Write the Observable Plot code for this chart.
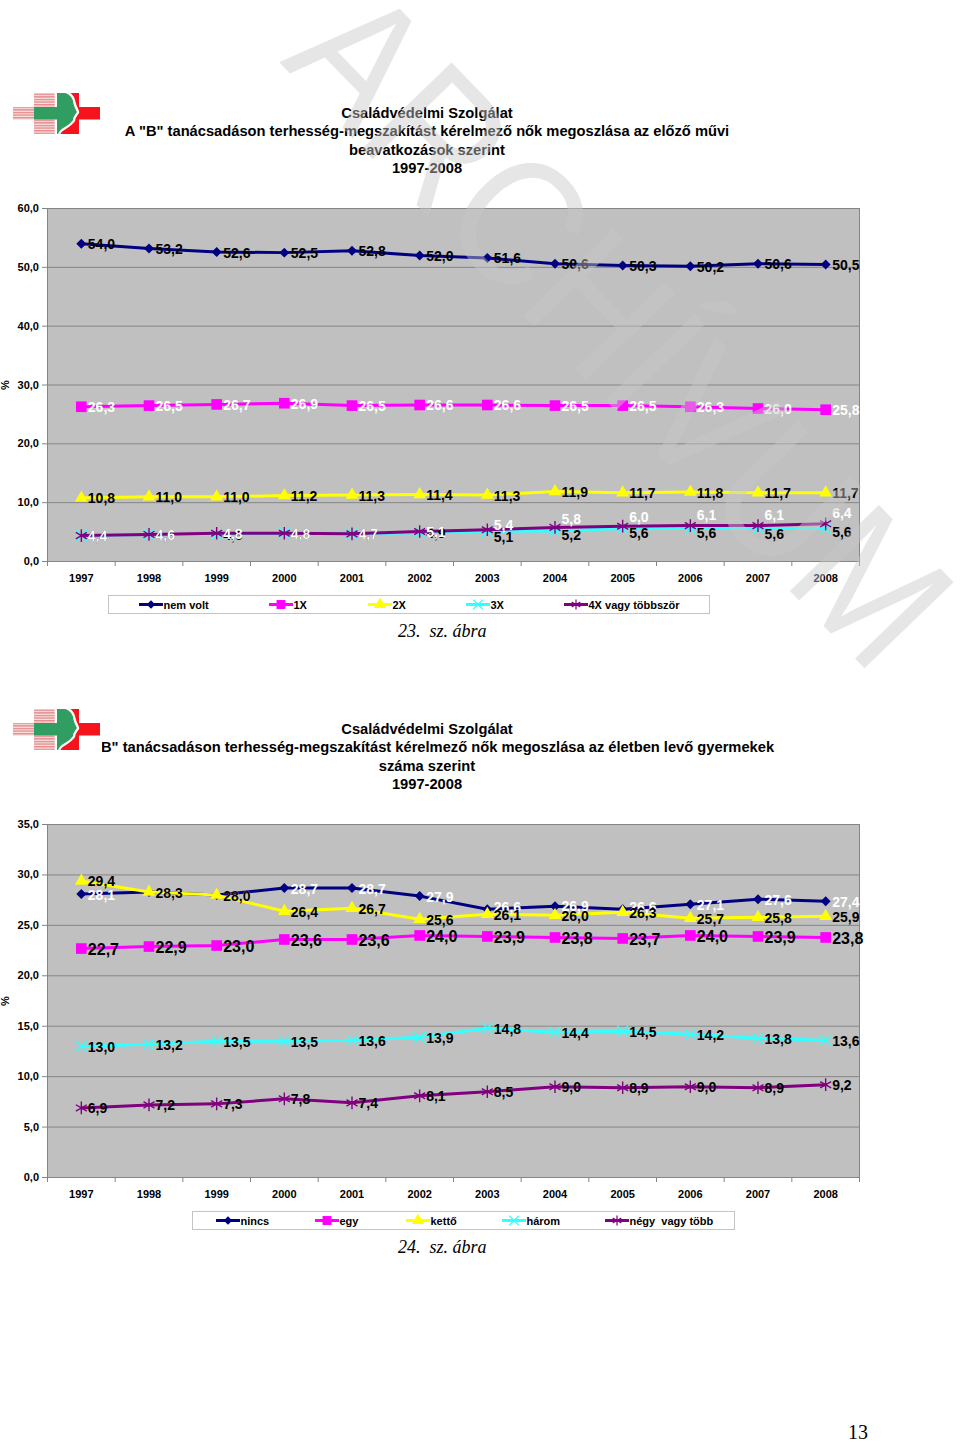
<!DOCTYPE html>
<html lang="hu">
<head>
<meta charset="utf-8">
<script src="https://cdn.jsdelivr.net/npm/d3@7"></script>
<script src="https://cdn.jsdelivr.net/npm/@observablehq/plot@0.6"></script>
<style>
html,body{margin:0;padding:0;background:#fff}
#page{position:relative;width:960px;height:1442px;overflow:hidden;background:#fff;font-family:"Liberation Sans",Arial,sans-serif;color:#000}
.abs{position:absolute}
.title{left:0;width:854px;text-align:center;font-size:14.7px;font-weight:bold;line-height:18.4px;white-space:nowrap}
.caption{font-family:"Liberation Serif","Times New Roman",serif;font-style:italic;font-size:18px;white-space:pre}
.legend{border:1px solid #c4c4c4;box-sizing:border-box;background:#fff;font-size:11px;font-weight:bold}
.legend span{position:absolute;top:2.5px;line-height:13px;white-space:pre}
.legend svg{position:absolute;top:0;overflow:visible}
</style>
</head>
<body>
<div id="page"></div>
<script>
const years = [1997,1998,1999,2000,2001,2002,2003,2004,2005,2006,2007,2008];

// 23. ábra
const nemVolt = [54.0,53.2,52.6,52.5,52.8,52.0,51.6,50.6,50.3,50.2,50.6,50.5];
const egyX = [26.3,26.5,26.7,26.9,26.5,26.6,26.6,26.5,26.5,26.3,26.0,25.8];
const ketX = [10.8,11.0,11.0,11.2,11.3,11.4,11.3,11.9,11.7,11.8,11.7,11.7];
const haromX = [4.4,4.6,4.6,4.8,4.7,4.9,5.1,5.2,5.6,5.6,5.6,5.6];
const negyX = [4.4,4.6,4.8,4.8,4.7,5.1,5.4,5.8,6.0,6.1,6.1,6.4];
const ticks1 = [0,10,20,30,40,50,60];

// 24. ábra
const nincs = [28.1,28.3,28.0,28.7,28.7,27.9,26.6,26.9,26.6,27.1,27.6,27.4];
const egy = [22.7,22.9,23.0,23.6,23.6,24.0,23.9,23.8,23.7,24.0,23.9,23.8];
const ketto = [29.4,28.3,28.0,26.4,26.7,25.6,26.1,26.0,26.3,25.7,25.8,25.9];
const harom = [13.0,13.2,13.5,13.5,13.6,13.9,14.8,14.4,14.5,14.2,13.8,13.6];
const negy = [6.9,7.2,7.3,7.8,7.4,8.1,8.5,9.0,8.9,9.0,8.9,9.2];
const ticks2 = [0,5,10,15,20,25,30,35];

const titles1 = ['Családvédelmi Szolgálat','A "B" tanácsadáson terhesség-megszakítást kérelmező nők megoszlása az előző művi','beavatkozások szerint','1997-2008'];
const titles2 = ['Családvédelmi Szolgálat','A "B" tanácsadáson terhesség-megszakítást kérelmező nők megoszlása az életben levő gyermekek','száma szerint','1997-2008'];

const NAVY="#000080", PINK="#ff00ff", YEL="#ffff00", CYAN="#33ffff", PURP="#800080";
const comma = v => d3.format(".1f")(v).replace(".",",");
const gap = y => y - 0.5;
const bounds = [...years.map(gap), 2008.5];

function chart(series, ticks, yMax, top){
  const marks = [
    Plot.frame({fill:"#c0c0c0",stroke:"#858585"}),
    Plot.ruleY(ticks,{stroke:"#858585",strokeWidth:1}),
    Plot.axisX(bounds,{tickSize:5,tickFormat:()=>"",stroke:"#858585",label:null}),
    Plot.axisX(years,{tickSize:0,tickPadding:13,tickFormat:"d",fontSize:11,fontWeight:"bold",label:null,fill:"#000"}),
    Plot.axisY(ticks,{tickSize:5,tickPadding:3.5,tickFormat:comma,fontSize:11,fontWeight:"bold",label:null,stroke:"#858585",fill:"#000"}),
    Plot.text(["%"],{frameAnchor:"left",textAnchor:"middle",dx:-42,rotate:-90,fontSize:11,fontWeight:"bold",fill:"#000"})
  ];
  for(const s of series){
    const rows = s.values.map((v,i)=>({year:years[i],v}));
    marks.push(Plot.line(rows,{x:"year",y:"v",stroke:s.color,strokeWidth:3}));
    marks.push(Plot.dot(rows, s.line
      ? {x:"year",y:"v",symbol:s.symbol,r:s.r,stroke:s.color,strokeWidth:1.4}
      : {x:"year",y:"v",symbol:s.symbol,r:s.r,fill:s.color}));
  }
  for(const s of series){
    const rows = s.values.map((v,i)=>({year:years[i],v,dy:s.dy?s.dy[i]:1}));
    for(const [dy,part] of d3.group(rows,d=>d.dy)){
      marks.push(Plot.text(part,{x:"year",y:"v",text:d=>comma(d.v),dx:6.5,dy,textAnchor:"start",
        fill:s.labelColor,fontSize:s.size,fontWeight:"bold"}));
    }
  }
  const p = Plot.plot({
    width:960,height:400,marginLeft:47,marginRight:101,marginTop:18,marginBottom:29,
    style:{fontFamily:"'Liberation Sans',Arial,sans-serif",background:"transparent",overflow:"visible"},
    x:{type:"linear",domain:[1996.5,2008.5]},
    y:{domain:[0,yMax]},
    marks
  });
  p.classList.add("abs");
  p.style.left="0";p.style.top=top+"px";
  return p;
}

function legend(entries,left,top,width){
  const box=d3.create("div").attr("class","abs legend")
    .style("left",left+"px").style("top",top+"px").style("width",width+"px").style("height","19px");
  for(const e of entries){
    const svg=box.append("svg").attr("width",24).attr("height",19).style("left",(e.x-left)+"px");
    svg.append("line").attr("x1",0).attr("x2",24).attr("y1",8.5).attr("y2",8.5).attr("stroke",e.color).attr("stroke-width",3);
    const path=d3.symbol(e.sym,e.size)();
    svg.append("path").attr("d",path).attr("transform","translate(12,8.5)")
      .attr("fill",e.line?"none":e.color).attr("stroke",e.line?e.color:"none").attr("stroke-width",1.2);
    box.append("span").style("left",(e.x-left+24.5)+"px").text(e.label);
  }
  return box.node();
}

function logo(dy){
  const ns=d3.create("svg").attr("class","abs").attr("width",960).attr("height",160).style("left","0").style("top",(80+dy)+"px").attr("viewBox","0 80 960 160");
  const id="st"+Math.round(dy);
  const defs=ns.append("defs");
  const pat=defs.append("pattern").attr("id",id).attr("patternUnits","userSpaceOnUse").attr("width",4).attr("height",2.6);
  pat.append("rect").attr("width",4).attr("height",2.6).attr("fill","#fbe6e6");
  pat.append("rect").attr("width",4).attr("height",1.4).attr("fill","#e28a8a");
  ns.append("rect").attr("x",8).attr("y",88).attr("width",94).attr("height",48).attr("fill","#fff");
  ns.append("path").attr("fill","#f5141e").attr("d","M57 93H79V107H100V119.5H79V134H57Z");
  ns.append("path").attr("fill",`url(#${id})`).attr("d","M13 107H34V93H57V134H34V119.5H13Z");
  const face="M57 93H65C69 94 72 97 73 101C73.5 104 74 106 77 112C75 115 73 117 73 120C71 123 68 125 65 127C61 129 59 131 58 134H57Z";
  ns.append("path").attr("fill","#fff").attr("stroke","#fff").attr("stroke-width",4.5).attr("stroke-linejoin","round").attr("d",face);
  ns.append("path").attr("fill","#2f9e60").attr("d",face);
  ns.append("rect").attr("x",34).attr("y",107).attr("width",24).attr("height",12.5).attr("fill","#2f9e60");
  return ns.node();
}

const page=document.getElementById("page");

function titleBlock(lines,top){
  const d=d3.create("div").attr("class","abs title").style("top",top+"px");
  lines.forEach(t=>d.append("div").text(t));
  return d.node();
}
function textAt(cls,text,x,y){
  return d3.create("div").attr("class","abs "+cls).style("left",x+"px").style("top",y+"px").text(text).node();
}

page.append(titleBlock(titles1,104));
page.append(logo(0));
page.append(chart([
  {values:nemVolt,color:NAVY,symbol:"diamond2",r:4.5,labelColor:"#000",size:14},
  {values:egyX,color:PINK,symbol:"square",r:6,labelColor:"#fff",size:14},
  {values:ketX,color:YEL,symbol:"triangle",r:4.8,labelColor:"#000",size:14},
  {values:haromX,color:CYAN,symbol:"times",r:5,line:true,labelColor:"#000",size:14,dy:[1,1,1,1,1,1,6,5,5,5,6,4]},
  {values:negyX,color:PURP,symbol:"asterisk",r:6,line:true,labelColor:"#fff",size:14,dy:[1,1,1,1,1,1,-4,-8,-9,-10,-10,-10]}
],ticks1,60,190));
page.append(legend([
  {x:138,label:"nem volt",color:NAVY,sym:d3.symbolDiamond2,size:45},
  {x:268,label:"1X",color:PINK,sym:d3.symbolSquare,size:80},
  {x:367,label:"2X",color:YEL,sym:d3.symbolTriangle,size:65},
  {x:465,label:"3X",color:CYAN,sym:d3.symbolTimes,size:60,line:true},
  {x:563,label:"4X vagy többször",color:PURP,sym:d3.symbolAsterisk,size:70,line:true}
],108,595,602));
page.append(textAt("caption","23.  sz. ábra",398,621));

page.append(titleBlock(titles2,720));
page.append(logo(615.5));
page.append(chart([
  {values:nincs,color:NAVY,symbol:"diamond2",r:4.5,labelColor:"#fff",size:14,dy:[1,1,1,1,1,1,-2,0,-2,1,1,1]},
  {values:egy,color:PINK,symbol:"square",r:6,labelColor:"#000",size:16},
  {values:ketto,color:YEL,symbol:"triangle",r:4.8,labelColor:"#000",size:14},
  {values:harom,color:CYAN,symbol:"times",r:5,line:true,labelColor:"#000",size:14},
  {values:negy,color:PURP,symbol:"asterisk",r:6,line:true,labelColor:"#000",size:14}
],ticks2,35,806));
page.append(legend([
  {x:215,label:"nincs",color:NAVY,sym:d3.symbolDiamond2,size:45},
  {x:314,label:"egy",color:PINK,sym:d3.symbolSquare,size:80},
  {x:405,label:"kettő",color:YEL,sym:d3.symbolTriangle,size:65},
  {x:501,label:"három",color:CYAN,sym:d3.symbolTimes,size:60,line:true},
  {x:604,label:"négy  vagy több",color:PURP,sym:d3.symbolAsterisk,size:70,line:true}
],192,1211,543));
page.append(textAt("caption","24.  sz. ábra",398,1237));

const pn=textAt("caption","13",848,1422);
pn.style.fontStyle="normal";pn.style.fontSize="20px";pn.style.lineHeight="20px";
page.append(pn);

// ARCHÍVUM watermark laid over the whole page
const wm=d3.create("svg").attr("class","abs").attr("width",960).attr("height",1442).style("left","0").style("top","0").style("pointer-events","none");
wm.append("text").attr("transform","translate(279,62) rotate(46)")
  .attr("font-family","'Liberation Sans',Arial,sans-serif").attr("font-size",180)
  .attr("textLength",856).attr("lengthAdjust","spacingAndGlyphs")
  .attr("fill","#c8c8c8").attr("fill-opacity",0.45).text("ARCHÍVUM");
page.append(wm.node());
</script>
</body>
</html>
